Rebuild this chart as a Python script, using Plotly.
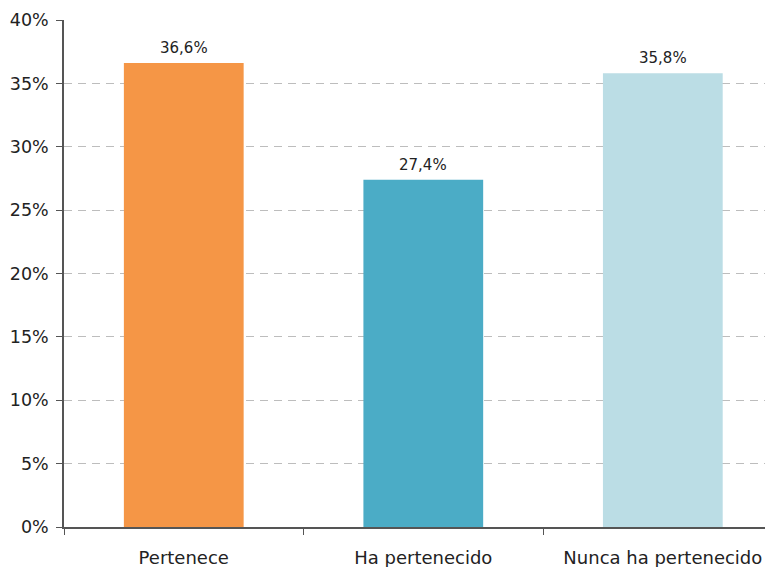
import plotly.graph_objects as go

categories = ["Pertenece", "Ha pertenecido", "Nunca ha pertenecido"]
values = [36.6, 27.4, 35.8]
colors = ["#F59646", "#4BACC6", "#BBDDE5"]
tick_values = [0, 5, 10, 15, 20, 25, 30, 35, 40]
tick_labels = ["0%", "5%", "10%", "15%", "20%", "25%", "30%", "35%", "40%"]
value_labels = ["36,6%", "27,4%", "35,8%"]

FONT = "DejaVu Sans"

fig = go.Figure(go.Bar(
    x=categories, y=values,
    marker=dict(color=colors, line=dict(width=0)),
    width=0.5,
))

for cat, val, lab in zip(categories, values, value_labels):
    fig.add_annotation(
        x=cat, y=val, text=lab, showarrow=False,
        yanchor="bottom", yshift=4,
        font=dict(size=15, color="#222222", family=FONT),
    )

fig.update_layout(
    width=773, height=567,
    margin=dict(l=56, r=8, t=12, b=48),
    paper_bgcolor="white", plot_bgcolor="white",
    showlegend=False,
    font=dict(family=FONT, color="#222222"),
    xaxis=dict(
        range=[-0.5, 2.46], automargin=False,
        showline=True, linecolor="#555555", linewidth=1.5,
        ticks="outside", tickson="boundaries", ticklen=6, tickcolor="#555555",
        tickfont=dict(size=18, color="#222222"),
        ticklabelstandoff=14,
        showgrid=False,
    ),
    yaxis=dict(
        range=[0, 40], tickmode="array", tickvals=tick_values, ticktext=tick_labels,
        automargin=False,
        showline=True, linecolor="#555555", linewidth=1.5,
        ticks="outside", ticklen=6, tickcolor="#555555",
        tickfont=dict(size=17.5, color="#222222"),
        ticklabelstandoff=4,
        showgrid=True, gridcolor="#BDBDBD", griddash="8px,6px", gridwidth=1.2,
        zeroline=False,
    ),
    bargap=0.5,
)

fig.write_html("out.html")
